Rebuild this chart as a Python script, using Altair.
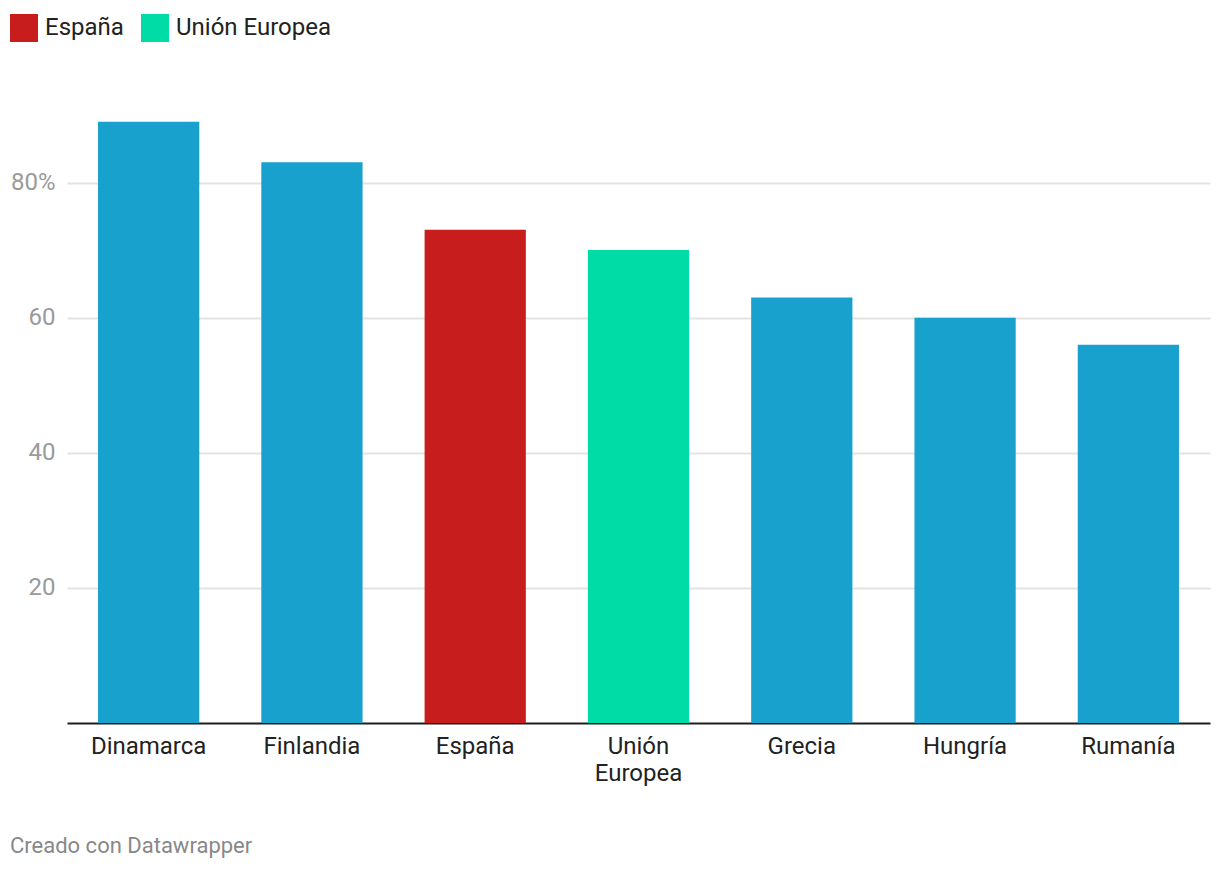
import altair as alt
import pandas as pd

paises = ["Dinamarca", "Finlandia", "España", "Unión Europea", "Grecia", "Hungría", "Rumanía"]
valores = [89, 83, 73, 70, 63, 60, 56]
grupos = ["otros", "otros", "España", "Unión Europea", "otros", "otros", "otros"]
y_ticks = [20, 40, 60, 80]

df = pd.DataFrame({"pais": paises, "valor": valores, "grupo": grupos})

FONT = "Roboto"

chart = alt.Chart(df).mark_bar().encode(
    x=alt.X("pais:N", sort=paises, title=None,
            scale=alt.Scale(paddingInner=0.38, paddingOuter=0.19),
            axis=alt.Axis(labelAngle=0, labelExpr="split(datum.label, ' ')",
                          labelFontSize=24, labelColor="#222222", labelFont=FONT,
                          labelLineHeight=27.5, labelPadding=11,
                          ticks=False, tickSize=0, domainColor="#1d1d1d", domainWidth=2,
                          grid=False)),
    y=alt.Y("valor:Q", title=None,
            scale=alt.Scale(domain=[0, 90], nice=False),
            axis=alt.Axis(values=y_ticks,
                          labelExpr="datum.value == 80 ? datum.label + '%' : datum.label",
                          labelFontSize=24, labelColor="#9a9a9a", labelFont=FONT,
                          labelPadding=12, ticks=False, tickSize=0, domain=False,
                          grid=True, gridColor="#e3e3e3", gridWidth=2)),
    color=alt.Color("grupo:N",
                    scale=alt.Scale(domain=["España", "Unión Europea", "otros"],
                                    range=["#c71e1d", "#00dca6", "#18a1cd"]),
                    legend=alt.Legend(values=["España", "Unión Europea"], title=None,
                                      orient="none", legendX=-57, legendY=-101,
                                      direction="horizontal", symbolType="square",
                                      symbolSize=784, symbolStrokeWidth=0,
                                      labelFontSize=24, labelFont=FONT,
                                      labelColor="#222222", labelOffset=7,
                                      columnPadding=17)),
).properties(
    width=1143,
    height=608,
    autosize=alt.AutoSizeParams(type="none"),
    padding={"left": 59, "top": 107, "right": 2, "bottom": 140},
    title=alt.TitleParams("Creado con Datawrapper", orient="bottom", anchor="start",
                          frame="bounds", fontSize=22, font=FONT, fontWeight="normal",
                          color="#888888", offset=50),
).configure_view(stroke=None)

chart.save("out.html", embed_options={"renderer": "svg", "actions": False})
